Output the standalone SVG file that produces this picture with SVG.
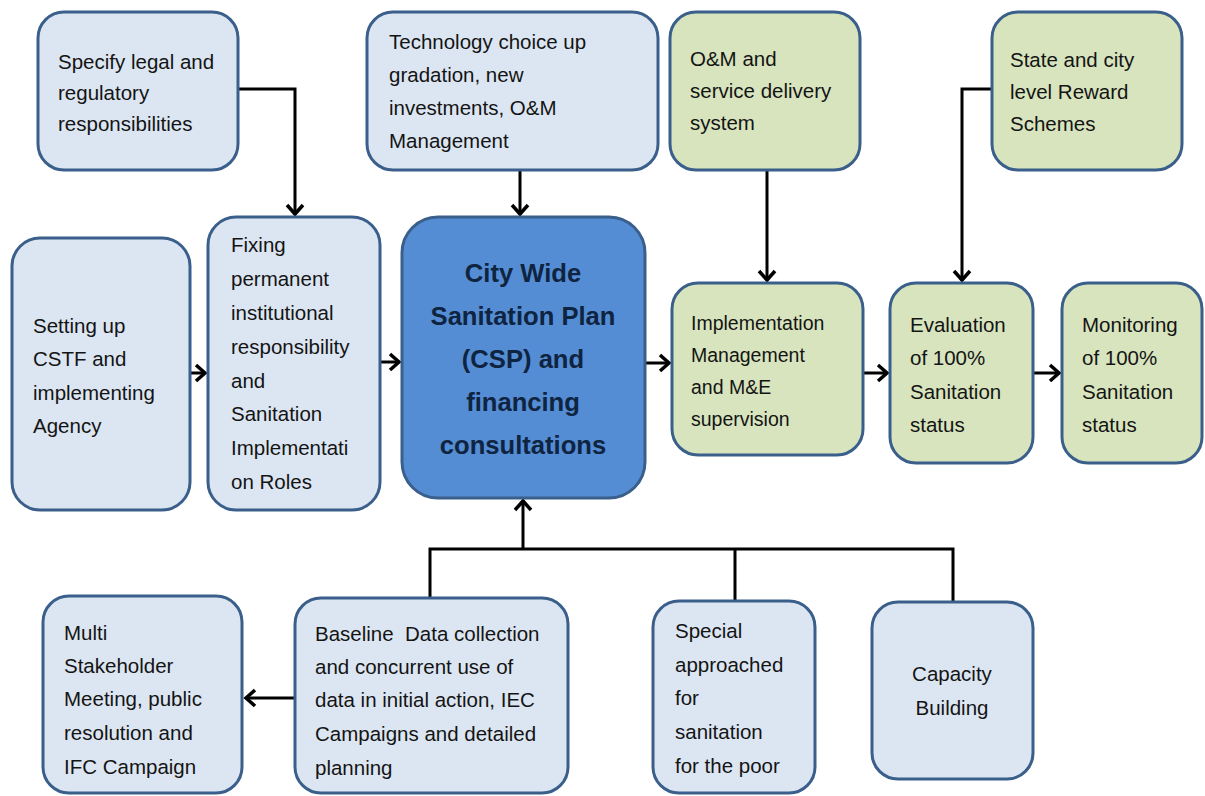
<svg xmlns="http://www.w3.org/2000/svg" width="1205" height="796" viewBox="0 0 1205 796">
<style>
.b{fill:#dce6f2;stroke:#3a5f8b;stroke-width:3}
.g{fill:#d7e4bd;stroke:#3a5f8b;stroke-width:3}
.c{fill:#548dd4;stroke:#3a5f8b;stroke-width:3}
text{font-family:"Liberation Sans",Arial,sans-serif;font-size:20.5px;fill:#141414}
.t{font-size:25.6px;font-weight:bold;fill:#0f2440;text-anchor:middle}
.m{text-anchor:middle}
.k{fill:none;stroke:#000;stroke-width:3}
</style>
<defs>
<marker id="a" viewBox="-12 -10 15 20" markerWidth="15" markerHeight="20" refX="0" refY="0" orient="auto" markerUnits="userSpaceOnUse">
<path d="M-9,-8 L0,0 L-9,8" fill="none" stroke="#000" stroke-width="3.5"/>
</marker>
</defs>
<rect width="1205" height="796" fill="#fff"/>
<g id="connectors" class="k">
<path d="M238,89 H295 V214" marker-end="url(#a)"/>
<path d="M520,170 V214" marker-end="url(#a)"/>
<path d="M767,170 V280" marker-end="url(#a)"/>
<path d="M992,89 H962 V280" marker-end="url(#a)"/>
<path d="M190,373 H205" marker-end="url(#a)"/>
<path d="M380,362 H399" marker-end="url(#a)"/>
<path d="M645,363 H669" marker-end="url(#a)"/>
<path d="M863,373 H887" marker-end="url(#a)"/>
<path d="M1033,373 H1059" marker-end="url(#a)"/>
<path d="M430,598 V549 H953 V602"/>
<path d="M735,549 V600"/>
<path d="M523,549 V501" marker-end="url(#a)"/>
<path d="M295,698 H246" marker-end="url(#a)"/>
</g>
<g id="n-legal"><rect class="b" x="38" y="12" width="200" height="158" rx="26"/>
<text x="58" y="69">Specify legal and</text><text x="58" y="100">regulatory</text><text x="58" y="131">responsibilities</text></g>
<g id="n-tech"><rect class="b" x="367" y="12" width="291" height="158" rx="26"/>
<text x="389" y="49">Technology choice up</text><text x="389" y="82">gradation, new</text><text x="389" y="115">investments, O&amp;M</text><text x="389" y="148">Management</text></g>
<g id="n-om"><rect class="g" x="670" y="12" width="190" height="158" rx="26"/>
<text x="690" y="66">O&amp;M and</text><text x="690" y="98">service delivery</text><text x="690" y="130">system</text></g>
<g id="n-reward"><rect class="g" x="992" y="12" width="190" height="158" rx="26"/>
<text x="1010" y="67">State and city</text><text x="1010" y="99">level Reward</text><text x="1010" y="131">Schemes</text></g>
<g id="n-setting"><rect class="b" x="12" y="238" width="178" height="272" rx="28"/>
<text x="33" y="333">Setting up</text><text x="33" y="366">CSTF and</text><text x="33" y="400">implementing</text><text x="33" y="433">Agency</text></g>
<g id="n-fixing"><rect class="b" x="208" y="217" width="172" height="293" rx="28"/>
<text x="231" y="252">Fixing</text><text x="231" y="286">permanent</text><text x="231" y="320">institutional</text><text x="231" y="354">responsibility</text><text x="231" y="388">and</text><text x="231" y="421">Sanitation</text><text x="231" y="455">Implementati</text><text x="231" y="489">on Roles</text></g>
<g id="n-csp"><rect class="c" x="402" y="217" width="243" height="281" rx="36"/>
<text class="t" x="523" y="282">City Wide</text><text class="t" x="523" y="325">Sanitation Plan</text><text class="t" x="523" y="368">(CSP) and</text><text class="t" x="523" y="411">financing</text><text class="t" x="523" y="454">consultations</text></g>
<g id="n-impl"><rect class="g" x="672" y="283" width="191" height="172" rx="26"/>
<text x="691" y="330" style="font-size:19.5px">Implementation</text><text x="691" y="362" style="font-size:19.5px">Management</text><text x="691" y="394" style="font-size:19.5px">and M&amp;E</text><text x="691" y="426" style="font-size:19.5px">supervision</text></g>
<g id="n-eval"><rect class="g" x="890" y="283" width="143" height="180" rx="26"/>
<text x="910" y="332">Evaluation</text><text x="910" y="365">of 100%</text><text x="910" y="399">Sanitation</text><text x="910" y="432">status</text></g>
<g id="n-mon"><rect class="g" x="1062" y="283" width="140" height="180" rx="26"/>
<text x="1082" y="332">Monitoring</text><text x="1082" y="365">of 100%</text><text x="1082" y="399">Sanitation</text><text x="1082" y="432">status</text></g>
<g id="n-multi"><rect class="b" x="43" y="596" width="199" height="197" rx="26"/>
<text x="64" y="640">Multi</text><text x="64" y="673">Stakeholder</text><text x="64" y="706">Meeting, public</text><text x="64" y="740">resolution and</text><text x="64" y="774">IFC Campaign</text></g>
<g id="n-baseline"><rect class="b" x="295" y="598" width="273" height="195" rx="26"/>
<text x="315" y="641" xml:space="preserve">Baseline  Data collection</text><text x="315" y="674">and concurrent use of</text><text x="315" y="707">data in initial action, IEC</text><text x="315" y="741">Campaigns and detailed</text><text x="315" y="775">planning</text></g>
<g id="n-poor"><rect class="b" x="653" y="601" width="162" height="192" rx="26"/>
<text x="675" y="638">Special</text><text x="675" y="672">approached</text><text x="675" y="705">for</text><text x="675" y="739">sanitation</text><text x="675" y="773">for the poor</text></g>
<g id="n-capacity"><rect class="b" x="872" y="602" width="161" height="177" rx="26"/>
<text class="m" x="952" y="681">Capacity</text><text class="m" x="952" y="715">Building</text></g>
</svg>
